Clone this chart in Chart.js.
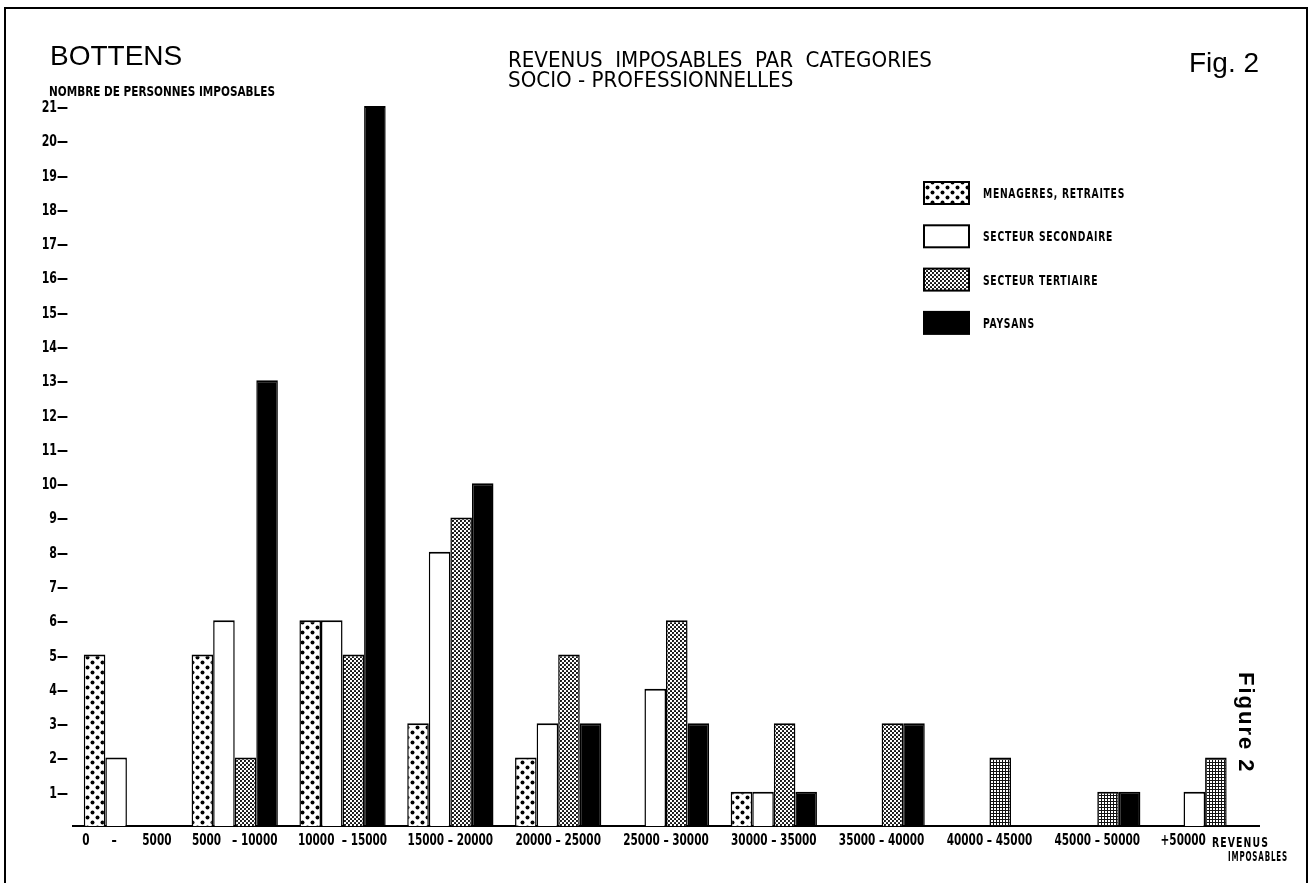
<!DOCTYPE html>
<html>
<head>
<meta charset="utf-8">
<script src="https://cdn.jsdelivr.net/npm/chart.js@4.4.1/dist/chart.umd.min.js"></script>
<style>
  html, body { margin: 0; padding: 0; background: #fff; }
  #wadah { width: 1310px; height: 883px; position: relative; }
</style>
</head>
<body>
<div id="wadah"><canvas id="grafik"></canvas></div>
<script>
// data
const kategori = [
  '0      –       5000', '5000   – 10000', '10000  – 15000', '15000 – 20000',
  '20000 – 25000', '25000 – 30000', '30000 – 35000', '35000 – 40000',
  '40000 – 45000', '45000 – 50000', '+50000            '
];
const menageres  = [5, 5, 6, 3, 2, 0, 1, 0, 0, 0, 0];
const secondaire = [2, 6, 6, 8, 3, 4, 1, 0, 0, 0, 1];
const tertiaire  = [0, 2, 5, 9, 5, 6, 3, 3, 2, 1, 2];
const paysans    = [0, 13, 21, 10, 3, 3, 1, 3, 0, 1, 0];
const namaSeri = ['MENAGERES, RETRAITES', 'SECTEUR SECONDAIRE', 'SECTEUR TERTIAIRE', 'PAYSANS'];
const batasY = 21;
// kelompok yang diarsir kotak-kotak (gaya saja)
const arsirKotak = [8, 9, 10];

const hurufSempit = "'DejaVu Sans Condensed', 'DejaVu Sans', sans-serif";
const hurufBiasa = "'Liberation Sans', Arial, sans-serif";

const kanvas = document.getElementById('grafik');
const ktx = kanvas.getContext('2d');

function buatPola(ukuran, gambar) {
  const c = document.createElement('canvas');
  c.width = ukuran; c.height = ukuran;
  const x = c.getContext('2d');
  gambar(x);
  return ktx.createPattern(c, 'repeat');
}

const polaTitik = buatPola(10, function (x) {
  x.fillStyle = '#fff'; x.fillRect(0, 0, 10, 10);
  x.fillStyle = '#000';
  [[2.5, 2.5], [7.5, 7.5]].forEach(function (p) {
    x.beginPath(); x.arc(p[0], p[1], 2.0, 0, Math.PI * 2); x.fill();
  });
});
const polaRapat = buatPola(4, function (x) {
  x.fillStyle = '#fff'; x.fillRect(0, 0, 4, 4);
  x.fillStyle = '#000';
  [[1, 1], [3, 3]].forEach(function (p) {
    x.beginPath(); x.arc(p[0], p[1], 1.05, 0, Math.PI * 2); x.fill();
  });
});
const polaKotak = buatPola(3, function (x) {
  x.fillStyle = '#111'; x.fillRect(0, 0, 3, 3);
  x.fillStyle = '#fff'; x.fillRect(1, 1, 2, 2);
});

const isiLegenda = [polaTitik, '#fff', polaRapat, '#000'];

// tulis teks yang dipadatkan ke samping
function tulisSempit(c, teks, x, y, skala, rata) {
  c.save();
  c.translate(x, y);
  c.scale(skala, 1);
  c.textAlign = rata || 'left';
  c.fillText(teks, 0, 0);
  c.restore();
}
function skalaLebar(c, teks, lebar) {
  return lebar / c.measureText(teks).width;
}

// plugin untuk teks, bingkai, label sumbu dan legenda
const pluginHiasan = {
  id: 'hiasan',
  beforeDraw: function (chart) {
    const c = chart.ctx;
    c.save();
    c.fillStyle = '#fff';
    c.fillRect(0, 0, chart.width, chart.height);
    c.restore();
  },
  afterDraw: function (chart) {
    const c = chart.ctx;
    const sx = chart.scales.x;
    const sy = chart.scales.y;
    c.save();
    c.fillStyle = '#000';
    c.strokeStyle = '#000';
    c.textBaseline = 'alphabetic';

    // bingkai
    c.lineWidth = 2;
    c.beginPath();
    c.moveTo(5, 890); c.lineTo(5, 8); c.lineTo(1307, 8); c.lineTo(1307, 890);
    c.stroke();

    c.font = '28px ' + hurufBiasa;
    c.fillText('BOTTENS', 50, 65);
    c.fillText('Fig. 2', 1189, 72);

    c.font = 'bold 14px ' + hurufSempit;
    let t = 'NOMBRE DE PERSONNES IMPOSABLES';
    tulisSempit(c, t, 49, 96, skalaLebar(c, t, 226));

    c.font = '21px ' + hurufSempit;
    t = 'REVENUS  IMPOSABLES  PAR  CATEGORIES';
    const sJudul = skalaLebar(c, t, 424);
    tulisSempit(c, t, 508, 67, sJudul);
    tulisSempit(c, 'SOCIO - PROFESSIONNELLES', 508, 87, sJudul);

    // label sumbu x dari skala
    c.font = 'bold 16px ' + hurufSempit;
    const sAngka = 7.3 / c.measureText('0').width;
    chart.data.labels.forEach(function (lbl, i) {
      tulisSempit(c, lbl, sx.getPixelForTick(i), 845, sAngka, 'center');
    });
    // label sumbu y dari skala
    sy.ticks.forEach(function (tk) {
      if (tk.value === 0) return;
      tulisSempit(c, tk.value + '—', sx.left - 5, sy.getPixelForValue(tk.value) + 6, sAngka * 1.05, 'right');
    });

    // judul sumbu x
    c.font = 'bold 14px ' + hurufSempit;
    c.letterSpacing = '1.5px';
    tulisSempit(c, 'REVENUS', 1212, 847, skalaLebar(c, 'REVENUS', 57));
    tulisSempit(c, 'IMPOSABLES', 1228, 861, skalaLebar(c, 'IMPOSABLES', 60));
    c.letterSpacing = '0px';

    // tulisan tegak "Figure 2"
    c.save();
    c.translate(1239, 672);
    c.rotate(Math.PI / 2);
    c.font = 'bold 22px ' + hurufBiasa;
    c.letterSpacing = '2px';
    c.fillText('Figure 2', 0, 0);
    c.restore();

    // legenda
    c.font = 'bold 14px ' + hurufSempit;
    c.letterSpacing = '1px';
    const sLeg = skalaLebar(c, namaSeri[0], 142);
    chart.data.datasets.forEach(function (ds, i) {
      const yTengah = 193 + i * 43.3;
      c.fillStyle = isiLegenda[i];
      c.fillRect(924, yTengah - 11, 45, 22);
      c.lineWidth = 2;
      c.strokeRect(924, yTengah - 11, 45, 22);
      c.fillStyle = '#000';
      tulisSempit(c, ds.label, 983, yTengah + 5, sLeg);
    });
    c.letterSpacing = '0px';
    c.restore();
  }
};

const gayaBatang = {
  borderColor: '#000',
  borderWidth: { top: 2, left: 1.5, right: 1.5, bottom: 0 },
  borderSkipped: 'start',
  categoryPercentage: 0.8,
  barPercentage: 1.0
};

const grafik = new Chart(ktx, {
  type: 'bar',
  data: {
    labels: kategori,
    datasets: [
      Object.assign({ label: namaSeri[0], data: menageres, backgroundColor: polaTitik }, gayaBatang),
      Object.assign({ label: namaSeri[1], data: secondaire, backgroundColor: '#fff' }, gayaBatang),
      Object.assign({
        label: namaSeri[2], data: tertiaire,
        backgroundColor: function (konteks) {
          return arsirKotak.indexOf(konteks.dataIndex) >= 0 ? polaKotak : polaRapat;
        }
      }, gayaBatang),
      Object.assign({ label: namaSeri[3], data: paysans, backgroundColor: '#000' }, gayaBatang)
    ]
  },
  options: {
    responsive: true,
    maintainAspectRatio: false,
    animation: false,
    layout: { padding: { left: 0, top: 106, right: 51, bottom: 0 } },
    plugins: {
      legend: { display: false },
      tooltip: { enabled: false },
      title: { display: false }
    },
    scales: {
      x: {
        grid: { display: false },
        border: { display: true, color: '#000', width: 2 },
        ticks: { display: false },
        afterFit: function (skala) { skala.height = 57; }
      },
      y: {
        min: 0,
        max: batasY,
        grid: { display: false },
        border: { display: false },
        ticks: { display: false, stepSize: 1 },
        afterFit: function (skala) { skala.width = 73; }
      }
    }
  },
  plugins: [pluginHiasan]
});
</script>
</body>
</html>
